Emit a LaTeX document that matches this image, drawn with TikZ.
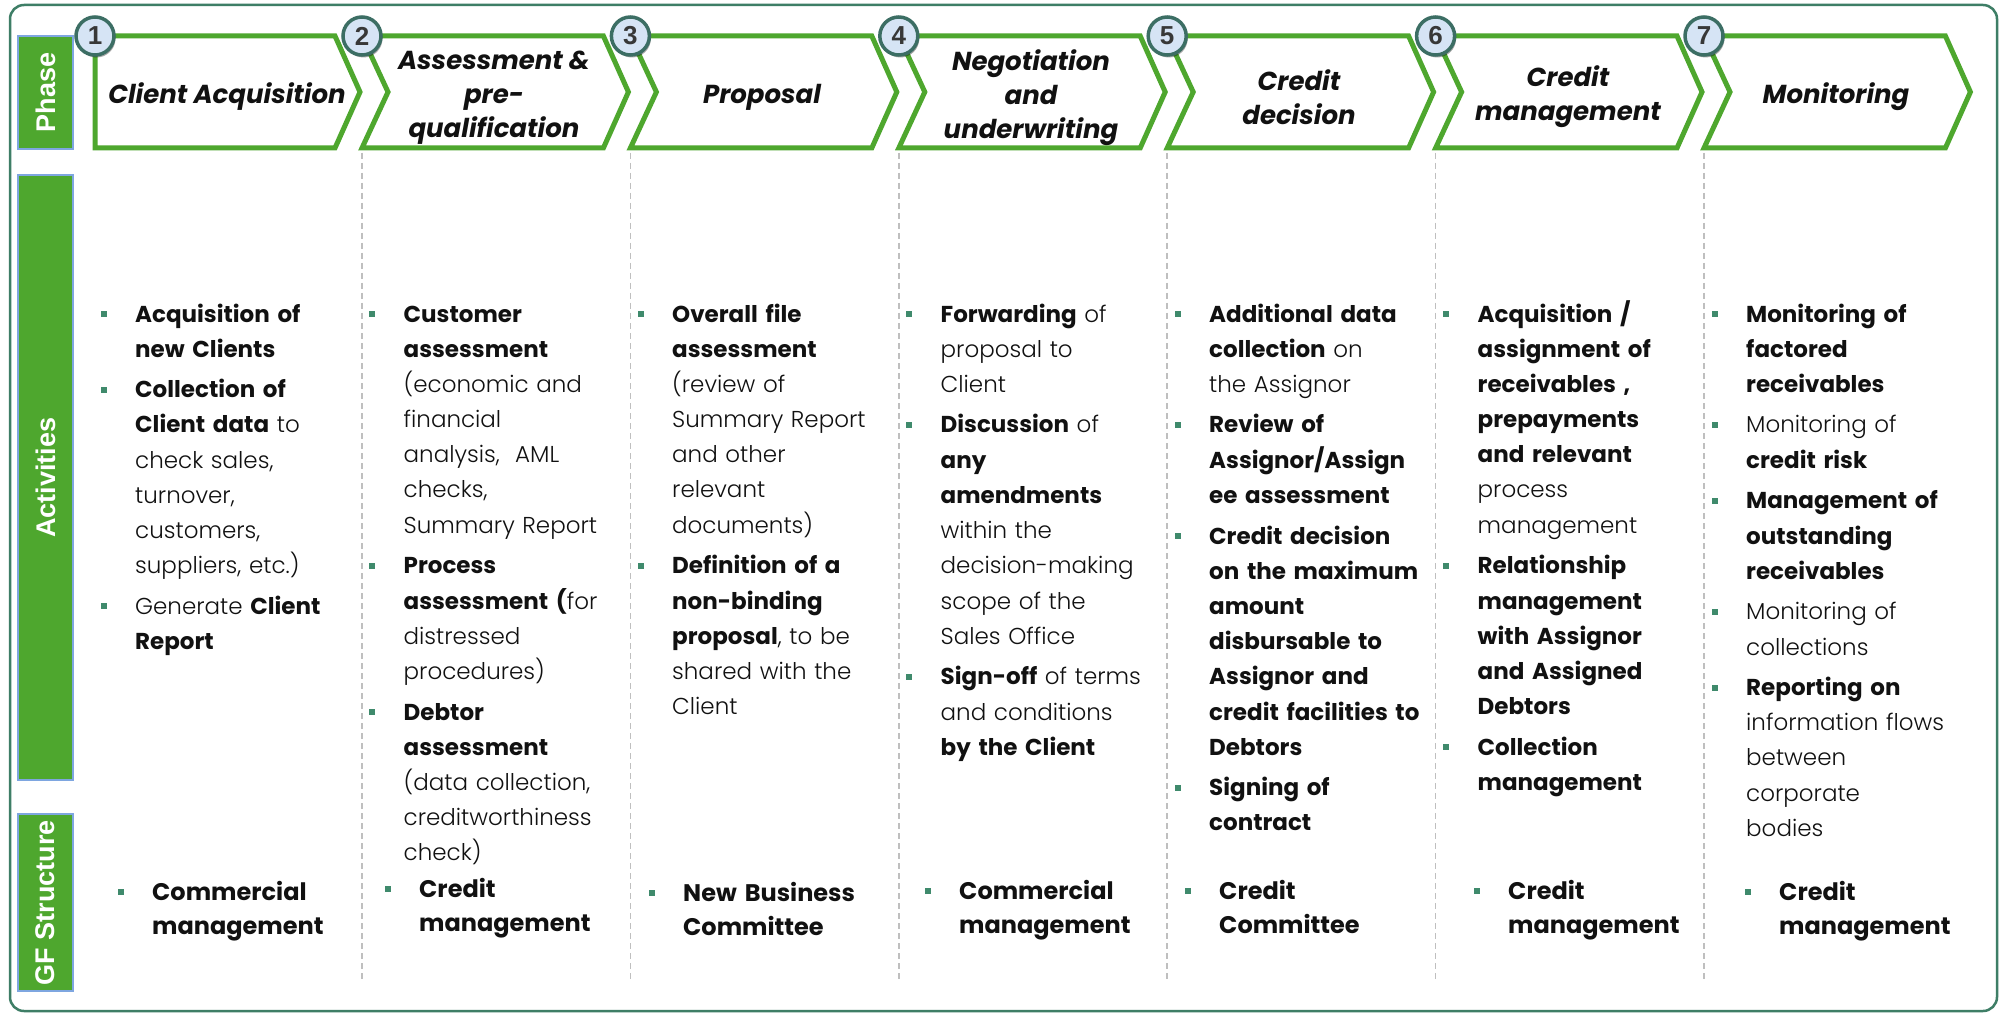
\documentclass[tikz,border=0pt]{standalone}
\usepackage{fontspec}
\setmainfont{Poppins}[UprightFont={* Light}, BoldFont={* Bold}, ItalicFont={* Light Italic}, BoldItalicFont={* Bold Italic}]
\newfontfamily\arialf{Liberation Sans}
\usetikzlibrary{shadows}
\definecolor{framec}{HTML}{3E7E66}
\definecolor{gr}{HTML}{4EA72E}
\definecolor{lblborder}{HTML}{7EA6E0}
\definecolor{circfill}{HTML}{D6E4F5}
\definecolor{circdraw}{HTML}{3C6E64}
\definecolor{bulc}{HTML}{3F8A6C}
\definecolor{sepc}{HTML}{BFBFBF}
\definecolor{txt}{HTML}{111111}
\newcommand\bl{\leavevmode\llap{\textcolor{bulc}{\rule[5pt]{6pt}{6pt}}\hspace{28.5pt}}}
\begin{document}
\begin{tikzpicture}[x=1pt,y=-1pt,
  frame/.style={draw=framec, line width=2.5pt, rounded corners=14pt},
  lbl/.style={draw=lblborder, line width=2.5pt, fill=gr, text=white, inner sep=0pt,
    font=\arialf\bfseries\fontsize{27}{30}\selectfont},
  chev/.style={draw=gr, line width=5pt, fill=white, line join=miter},
  circ/.style={circle, draw=circdraw, line width=3.5pt, fill=circfill, minimum size=38pt, inner sep=0pt,
    text=black!78, font=\arialf\bfseries\fontsize{26}{26}\selectfont,
    drop shadow={shadow xshift=1.5pt, shadow yshift=-2.5pt, opacity=0.35, fill=black}},
  title/.style={align=center, inner sep=0pt, text=txt,
    font=\fontsize{26}{34}\selectfont\bfseries\itshape},
  sep/.style={draw=sepc, line width=1.5pt, dash pattern=on 6pt off 4pt},
  coltext/.style={anchor=base west, inner sep=0pt, text width=260pt, align=left, text=txt,
    font=\fontsize{23}{35.2}\selectfont},
  gftext/.style={anchor=base west, inner sep=0pt, text width=220pt, align=left, text=txt,
    font=\fontsize{24}{34}\selectfont\bfseries}
]
\useasboundingbox (0,0) rectangle (2002,1016);
\fill[white] (0,0) rectangle (2002,1016);
\draw[frame] (10,5) rectangle (1997,1011);

% side labels
\node[lbl, rotate=90, minimum width=113pt, minimum height=55pt] (phase) at (45.5,92.5) {Phase};
\node[lbl, rotate=90, minimum width=605pt, minimum height=55pt] (activities) at (45.5,477.5) {Activities};
\node[lbl, rotate=90, minimum width=177pt, minimum height=55pt] (gfs) at (45.5,902.5) {GF Structure};

% separators
\foreach \k in {2,...,7}{
  \pgfmathsetmacro\L{362+(\k-2)*268.4}
  \coordinate (s\k a) at (\L,153);
  \coordinate (s\k b) at (\L,982);
  \draw[sep] (s\k a) -- (s\k b);
}

% chevrons
\draw[chev] (95,36) -- (335,36) -- (360,92) -- (335,148) -- (95,148) -- cycle;
\foreach \k in {2,...,7}{
  \pgfmathsetmacro\L{362+(\k-2)*268.4}
  \pgfmathsetmacro\R{\L+268.4}
  \draw[chev] (\L,36) -- (\R-27,36) -- (\R-2,92) -- (\R-27,148) -- (\L,148) -- (\L+26,92) -- cycle;
}
% titles
\node[title] (t1) at (227,97) {Client Acquisition};
\node[title] (t2) at (494,98) {Assessment \&\\pre-\\qualification};
\node[title] (t3) at (762,97) {Proposal};
\node[title] (t4) at (1031,98) {Negotiation\\and\\underwriting};
\node[title] (t5) at (1299,97) {Credit\\decision};
\node[title] (t6) at (1568,97) {Credit\\management};
\node[title] (t7) at (1836,97) {Monitoring};

% circles
\node[circ] (c1) at (95,36) {1};
\foreach \k in {2,...,7}{
  \pgfmathsetmacro\L{362+(\k-2)*268.4}
  \node[circ] (c\k) at (\L,36) {\k};
}

% activities
\node[coltext] (a1) at (135,322) {%
\bl\textbf{Acquisition of}\\
\textbf{new Clients}\\[5.4pt]
\bl\textbf{Collection of}\\
\textbf{Client data} to\\
check sales,\\
turnover,\\
customers,\\
suppliers, etc.)\\[5.4pt]
\bl Generate \textbf{Client}\\
\textbf{Report}};

\node[coltext] (a2) at (403.5,322) {%
\bl\textbf{Customer}\\
\textbf{assessment}\\
(economic and\\
financial\\
analysis,\ \ AML\\
checks,\\
Summary Report\\[5.4pt]
\bl\textbf{Process}\\
\textbf{assessment (}for\\
distressed\\
procedures)\\[5.4pt]
\bl\textbf{Debtor}\\
\textbf{assessment}\\
(data collection,\\
creditworthiness\\
check)};

\node[coltext] (a3) at (672,322) {%
\bl\textbf{Overall file}\\
\textbf{assessment}\\
(review of\\
Summary Report\\
and other\\
relevant\\
documents)\\[5.4pt]
\bl\textbf{Definition of a}\\
\textbf{non-binding}\\
\textbf{proposal}, to be\\
shared with the\\
Client};

\node[coltext] (a4) at (940.5,322) {%
\bl\textbf{Forwarding} of\\
proposal to\\
Client\\[5.4pt]
\bl\textbf{Discussion} of\\
\textbf{any}\\
\textbf{amendments}\\
within the\\
decision-making\\
scope of the\\
Sales Office\\[5.4pt]
\bl\textbf{Sign-off} of terms\\
and conditions\\
\textbf{by the Client}};

\node[coltext] (a5) at (1209,322) {%
\bl\textbf{Additional data}\\
\textbf{collection} on\\
the Assignor\\[5.4pt]
\bl\textbf{Review of}\\
\textbf{Assignor/Assign}\\
\textbf{ee assessment}\\[5.4pt]
\bl\textbf{Credit decision}\\
\textbf{on the maximum}\\
\textbf{amount}\\
\textbf{disbursable to}\\
\textbf{Assignor and}\\
\textbf{credit facilities to}\\
\textbf{Debtors}\\[5.4pt]
\bl\textbf{Signing of}\\
\textbf{contract}};

\node[coltext] (a6) at (1477.5,322) {%
\bl\textbf{Acquisition /}\\
\textbf{assignment of}\\
\textbf{receivables ,}\\
\textbf{prepayments}\\
\textbf{and relevant}\\
process\\
management\\[5.4pt]
\bl\textbf{Relationship}\\
\textbf{management}\\
\textbf{with Assignor}\\
\textbf{and Assigned}\\
\textbf{Debtors}\\[5.4pt]
\bl\textbf{Collection}\\
\textbf{management}};

\node[coltext] (a7) at (1746,322) {%
\bl\textbf{Monitoring of}\\
\textbf{factored}\\
\textbf{receivables}\\[5.4pt]
\bl Monitoring of\\
\textbf{credit risk}\\[5.4pt]
\bl\textbf{Management of}\\
\textbf{outstanding}\\
\textbf{receivables}\\[5.4pt]
\bl Monitoring of\\
collections\\[5.4pt]
\bl\textbf{Reporting on}\\
information flows\\
between\\
corporate\\
bodies};

% GF structure
\node[gftext] (g1) at (152,900) {\bl Commercial\\management};
\node[gftext] (g2) at (419,897) {\bl Credit\\management};
\node[gftext] (g3) at (683,901) {\bl New Business\\Committee};
\node[gftext] (g4) at (959,899) {\bl Commercial\\management};
\node[gftext] (g5) at (1219,899) {\bl Credit\\Committee};
\node[gftext] (g6) at (1508,899) {\bl Credit\\management};
\node[gftext] (g7) at (1779,900) {\bl Credit\\management};
\end{tikzpicture}
\end{document}
